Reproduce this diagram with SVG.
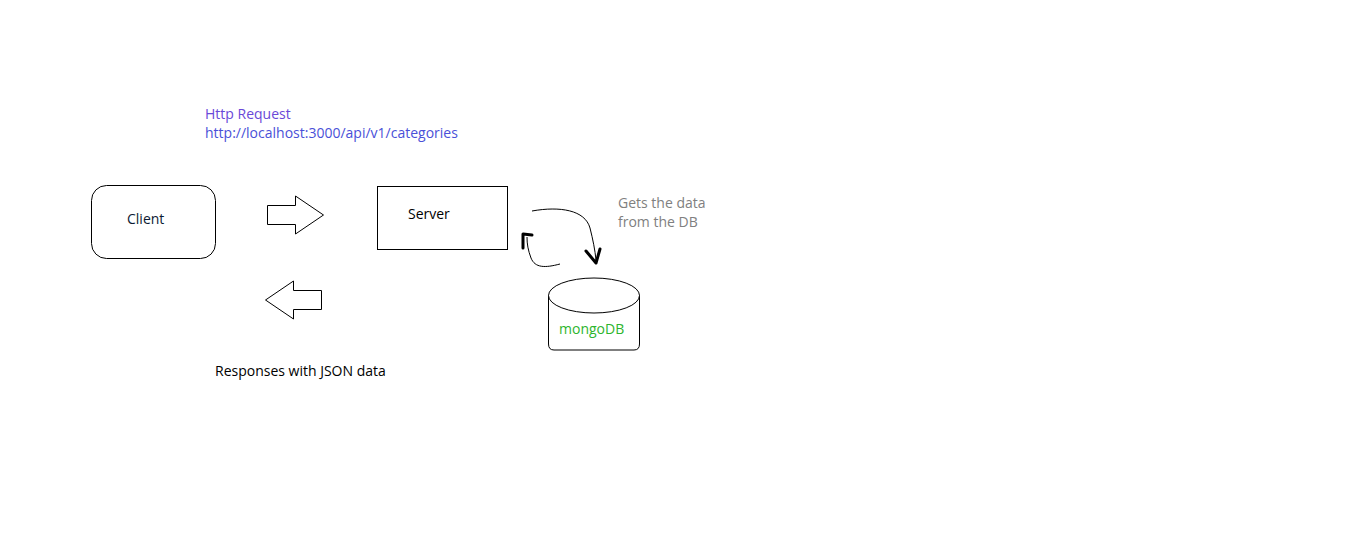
<svg xmlns="http://www.w3.org/2000/svg" width="1359" height="559" viewBox="0 0 1359 559">
<style>
text{font-family:"Open Sans","Noto Sans",sans-serif;font-size:14px}
.shape{fill:#fff;stroke:#000;stroke-width:1}
.thin{fill:none;stroke:#000;stroke-width:1}
.thick{fill:none;stroke:#000;stroke-width:3;stroke-linecap:round;stroke-linejoin:round}
</style>
<rect width="1359" height="559" fill="#fff"/>
<g id="label-request">
<text x="205" y="119" fill="#6a48d8">Http Request</text>
<text x="205" y="138" fill="#4a50d8">http://localhost:3000/api/v1/categories</text>
</g>
<g id="client">
<rect class="shape" x="91.5" y="185.5" width="124" height="73" rx="15"/>
<text x="127" y="224" fill="#0b1a33">Client</text>
</g>
<g id="server">
<rect class="shape" x="377.5" y="186.5" width="130" height="63"/>
<text x="408" y="219" fill="#000">Server</text>
</g>
<g id="mongodb">
<path class="shape" d="M548.5,295 L548.5,344 Q548.5,350 554,350 L634,350 Q639.5,350 639.5,344 L639.5,295"/>
<ellipse class="shape" cx="594" cy="295.5" rx="45.5" ry="17.5"/>
<text x="559" y="334" fill="#2db52d">mongoDB</text>
</g>
<g id="label-gets">
<text x="618" y="208" fill="#808080">Gets the data</text>
<text x="618" y="227" fill="#808080">from the DB</text>
</g>
<g id="label-response">
<text x="215" y="376" fill="#000">Responses with JSON data</text>
</g>
<g id="connectors">
<polygon class="shape" points="267.5,205.5 295.5,205.5 295.5,196 323.5,215 295.5,234 295.5,224.5 267.5,224.5"/>
<polygon class="shape" points="321.5,290.5 293.5,290.5 293.5,281 265.5,300 293.5,319 293.5,309.5 321.5,309.5"/>
<path class="thin" d="M532,211 C560,206 585,210 590,228 C593,240 595,250 596,260"/>
<path class="thick" d="M586,251 L596,263 L600,249"/>
<path class="thin" d="M560,264 C545,268 535,268 531,258 C528,250 527,244 527,237"/>
<path class="thick" d="M523,248 L523,234 L532,235"/>
</g>
</svg>
